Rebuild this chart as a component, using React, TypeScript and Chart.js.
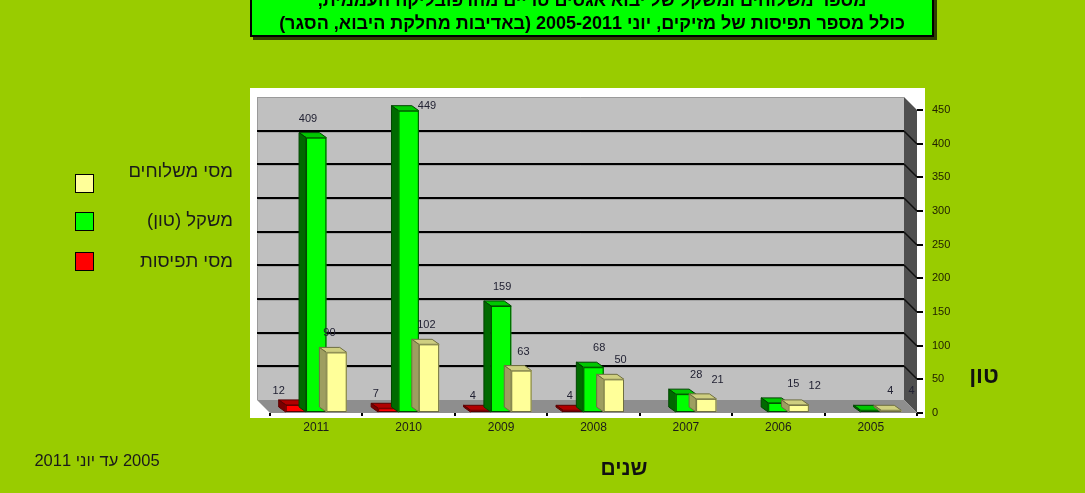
import React, { useEffect, useRef } from "react";
import { Chart, registerables } from "chart.js";

Chart.register(...registerables);

// ---------- data ----------
const years = ["2011", "2010", "2009", "2008", "2007", "2006", "2005"];
const seizures: (number | null)[] = [12, 7, 4, 4, null, null, null];
const weightTons: (number | null)[] = [409, 449, 159, 68, 28, 15, 4];
const shipments: (number | null)[] = [90, 102, 63, 50, 21, 12, 4];
const seriesNames = ["מסי תפיסות", "משקל (טון)", "מסי משלוחים"];
const yMin = 0;
const yMax = 450;
const yStep = 50;
const titleLines = [
  "מספר משלוחים ומשקל של יבוא אגסים טריים מהרפובליקה העממית,",
  "כולל מספר תפיסות של מזיקים, יוני 2005-2011 (באדיבות מחלקת היבוא, הסגר)",
];
const xTitle = "שנים";
const yTitle = "טון";
const footnote = "2005 עד יוני 2011";

// ---------- styles ----------
const FONT = "'Liberation Sans', Arial, sans-serif";
const barStyles = [
  { front: "#FF0000", top: "#B00000", side: "#7A0000", border: "#5A0000" },
  { front: "#00FF00", top: "#00C800", side: "#006A00", border: "#004400" },
  { front: "#FFFF99", top: "#CFCF80", side: "#9E9E60", border: "#6E6E40" },
];
const GEO = { L: 270, R: 917, T: 110, B: 413, D: 13, W: 1085, H: 493 };
const BAR_DX = 7;
const BAR_DY = 5;

const wallPlugin = {
  id: "wall3d",
  beforeDraw(chart: any) {
    const { ctx, chartArea } = chart;
    const { left: L, right: R, top: T, bottom: B } = chartArea;
    const D = GEO.D;
    const ys = chart.scales.y;
    ctx.save();
    // white frame
    ctx.fillStyle = "#FFFFFF";
    ctx.fillRect(250, 88, 675, 330);
    // back wall
    ctx.fillStyle = "#C0C0C0";
    ctx.fillRect(L - D, T - D, R - L, B - T);
    // right wall
    ctx.fillStyle = "#4F4F4F";
    ctx.beginPath();
    ctx.moveTo(R - D, T - D);
    ctx.lineTo(R, T);
    ctx.lineTo(R, B);
    ctx.lineTo(R - D, B - D);
    ctx.closePath();
    ctx.fill();
    // floor
    ctx.fillStyle = "#8E8E8E";
    ctx.beginPath();
    ctx.moveTo(L - D, B - D);
    ctx.lineTo(R - D, B - D);
    ctx.lineTo(R, B);
    ctx.lineTo(L, B);
    ctx.closePath();
    ctx.fill();
    // wall top/left edges
    ctx.strokeStyle = "#9A9A9A";
    ctx.lineWidth = 1;
    ctx.beginPath();
    ctx.moveTo(L - D, T - D + 0.5);
    ctx.lineTo(R - D, T - D + 0.5);
    ctx.moveTo(L - D + 0.5, T - D);
    ctx.lineTo(L - D + 0.5, B - D);
    ctx.stroke();
    // gridlines
    for (let v = yMin + yStep; v < yMax; v += yStep) {
      const y = Math.round(ys.getPixelForValue(v)) - D;
      ctx.strokeStyle = "#000000";
      ctx.lineWidth = 2;
      ctx.beginPath();
      ctx.moveTo(L - D, y);
      ctx.lineTo(R - D, y);
      ctx.stroke();
      ctx.strokeStyle = "#A4A4A4";
      ctx.lineWidth = 1;
      ctx.beginPath();
      ctx.moveTo(L - D, y + 1.5);
      ctx.lineTo(R - D, y + 1.5);
      ctx.stroke();
      ctx.strokeStyle = "#111111";
      ctx.lineWidth = 1.5;
      ctx.beginPath();
      ctx.moveTo(R - D, y);
      ctx.lineTo(R, y + D);
      ctx.stroke();
    }
    ctx.restore();
  },
};

const barsPlugin = {
  id: "bars3d",
  afterDatasetsDraw(chart: any) {
    const { ctx, chartArea } = chart;
    const n = chart.data.labels.length;
    const metas = chart.data.datasets.map((_: any, i: number) => chart.getDatasetMeta(i));
    ctx.save();
    for (let i = 0; i < n; i++) {
      metas.forEach((meta: any, j: number) => {
        const val = chart.data.datasets[j].data[i];
        if (val === null || val === undefined) return;
        const el = meta.data[i];
        const st = barStyles[j];
        const w = el.width;
        const left = el.x - w / 2;
        const right = el.x + w / 2;
        const top = el.y;
        const base = el.base;
        // top face
        ctx.fillStyle = st.top;
        ctx.strokeStyle = st.border;
        ctx.lineWidth = 1;
        ctx.beginPath();
        ctx.moveTo(left, top);
        ctx.lineTo(right, top);
        ctx.lineTo(right - BAR_DX, top - BAR_DY);
        ctx.lineTo(left - BAR_DX, top - BAR_DY);
        ctx.closePath();
        ctx.fill();
        ctx.stroke();
        // left face
        ctx.fillStyle = st.side;
        ctx.beginPath();
        ctx.moveTo(left, top);
        ctx.lineTo(left - BAR_DX, top - BAR_DY);
        ctx.lineTo(left - BAR_DX, base - BAR_DY);
        ctx.lineTo(left, base);
        ctx.closePath();
        ctx.fill();
        ctx.stroke();
        // front face
        ctx.fillStyle = st.front;
        ctx.fillRect(left, top, w, base - top);
        ctx.strokeRect(left + 0.5, top + 0.5, w - 1, base - top - 1);
      });
    }
    // value labels
    ctx.font = `11px ${FONT}`;
    ctx.fillStyle = "#222233";
    ctx.textBaseline = "middle";
    for (let i = 0; i < n; i++) {
      metas.forEach((meta: any, j: number) => {
        const val = chart.data.datasets[j].data[i];
        if (val === null || val === undefined) return;
        const el = meta.data[i];
        const shift = (el.x - 480) * 0.05 + (j === 0 ? -8 : 0);
        const lx = el.x + shift;
        const ly = el.y - (j === 0 ? 14 : 19);
        if (ly < chartArea.top - 8) {
          ctx.textAlign = "left";
          ctx.fillText(String(val), el.x + el.width / 2 - 1, el.y - 5);
        } else {
          ctx.textAlign = "center";
          ctx.fillText(String(val), lx, ly);
        }
      });
    }
    ctx.restore();
  },
};

export default function App() {
  const canvasRef = useRef<HTMLCanvasElement | null>(null);

  useEffect(() => {
    if (!canvasRef.current) return;
    const series = [seizures, weightTons, shipments];
    const chart = new Chart(canvasRef.current, {
      type: "bar",
      data: {
        labels: years,
        datasets: series.map((d, j) => ({
          label: seriesNames[j],
          data: d,
          backgroundColor: barStyles[j].front,
          borderColor: barStyles[j].border,
          borderWidth: 1,
          categoryPercentage: 0.66,
          barPercentage: 1,
        })),
      },
      options: {
        animation: false,
        responsive: false,
        maintainAspectRatio: false,
        layout: {
          padding: {
            left: GEO.L,
            top: GEO.T,
            right: GEO.W - GEO.R - 50,
            bottom: GEO.H - GEO.B - 30,
          },
        },
        plugins: {
          legend: { display: false },
          title: { display: false },
          tooltip: { enabled: false },
        },
        scales: {
          x: {
            offset: true,
            grid: {
              display: true,
              drawOnChartArea: false,
              drawTicks: true,
              tickLength: 3,
              color: "#000000",
              lineWidth: 2,
              offset: true,
            },
            border: { display: false },
            ticks: {
              font: { family: FONT, size: 12 },
              color: "#1a1a1a",
              padding: 4,
              maxRotation: 0,
            },
            afterFit: (s: any) => {
              s.height = 30;
            },
          },
          y: {
            position: "right",
            min: yMin,
            max: yMax,
            ticks: {
              stepSize: yStep,
              font: { family: FONT, size: 11 },
              color: "#222200",
              padding: 9,
            },
            grid: {
              drawOnChartArea: false,
              drawTicks: true,
              tickLength: 6,
              color: "#000000",
              lineWidth: 2,
            },
            border: { display: false },
            afterFit: (s: any) => {
              s.width = 50;
            },
          },
        },
      } as any,
      plugins: [wallPlugin, barsPlugin],
    });
    return () => chart.destroy();
  }, []);

  const legendItems = [
    { name: seriesNames[2], color: barStyles[2].front, textY: 171, boxY: 174 },
    { name: seriesNames[1], color: barStyles[1].front, textY: 220, boxY: 212 },
    { name: seriesNames[0], color: barStyles[0].front, textY: 261, boxY: 252 },
  ];

  return (
    <div
      style={{
        position: "fixed",
        left: 0,
        top: 0,
        width: GEO.W,
        height: GEO.H,
        background: "#99CC00",
        overflow: "hidden",
        fontFamily: FONT,
      }}
    >
      <canvas
        ref={canvasRef}
        width={GEO.W}
        height={GEO.H}
        style={{ position: "absolute", left: 0, top: 0, display: "block" }}
      />
      <div
        style={{
          position: "absolute",
          left: 250,
          top: -20,
          width: 684,
          height: 57,
          boxSizing: "border-box",
          background: "#00FF00",
          border: "2px solid #000",
          boxShadow: "3px 3px 0 #2E3E00",
          direction: "rtl",
          textAlign: "center",
          fontWeight: "bold",
          fontSize: 18,
          lineHeight: "23px",
          paddingTop: 7,
          color: "#000",
          whiteSpace: "nowrap",
        }}
      >
        {titleLines.map((t, i) => (
          <div key={i}>{t}</div>
        ))}
      </div>
      {legendItems.map((it, i) => (
        <React.Fragment key={i}>
          <div
            style={{
              position: "absolute",
              right: GEO.W - 233,
              top: it.textY - 11,
              height: 22,
              lineHeight: "22px",
              fontSize: 18.5,
              direction: "rtl",
              whiteSpace: "nowrap",
              color: "#1a1a1a",
            }}
          >
            {it.name}
          </div>
          <div
            style={{
              position: "absolute",
              left: 75,
              top: it.boxY,
              width: 19,
              height: 19,
              boxSizing: "border-box",
              background: it.color,
              border: "1px solid #000",
            }}
          />
        </React.Fragment>
      ))}
      <div
        style={{
          position: "absolute",
          left: 596,
          top: 456,
          width: 56,
          textAlign: "center",
          fontSize: 21,
          fontWeight: "bold",
          lineHeight: "24px",
          direction: "rtl",
          color: "#111",
        }}
      >
        {xTitle}
      </div>
      <div
        style={{
          position: "absolute",
          left: 962,
          top: 362,
          width: 44,
          textAlign: "center",
          fontSize: 23,
          fontWeight: "bold",
          lineHeight: "26px",
          direction: "rtl",
          color: "#111",
        }}
      >
        {yTitle}
      </div>
      <div
        style={{
          position: "absolute",
          left: 22,
          top: 450,
          width: 150,
          textAlign: "center",
          fontSize: 16.5,
          lineHeight: "20px",
          direction: "rtl",
          whiteSpace: "nowrap",
          color: "#1a1a1a",
        }}
      >
        {footnote}
      </div>
    </div>
  );
}
